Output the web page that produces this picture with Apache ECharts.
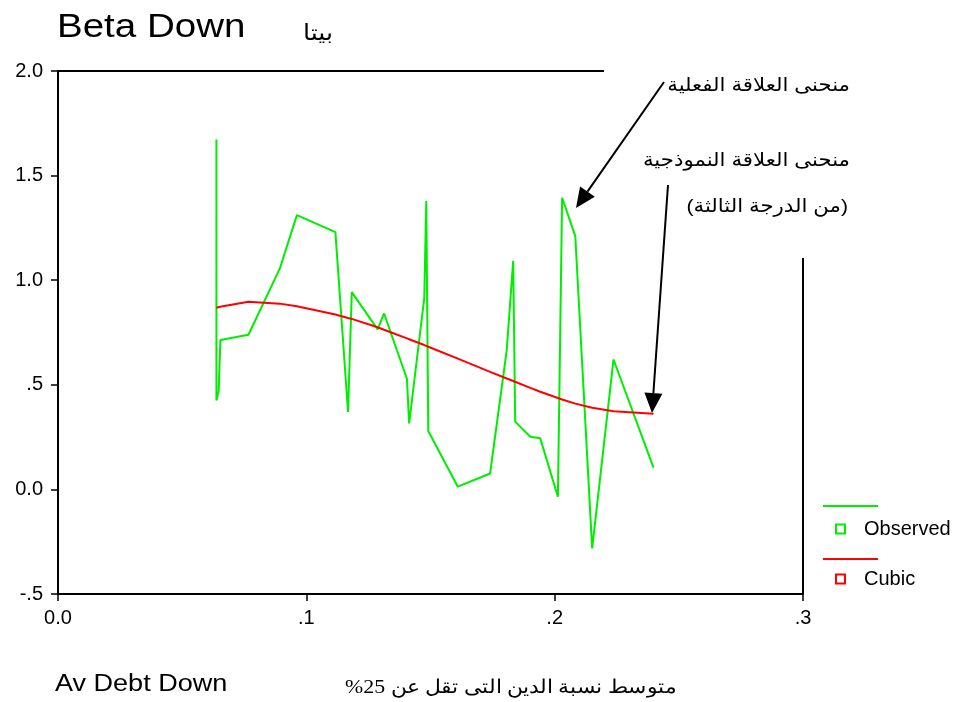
<!DOCTYPE html>
<html>
<head>
<meta charset="utf-8">
<script src="https://cdn.jsdelivr.net/npm/echarts@6/dist/echarts.min.js"></script>
<style>html,body{margin:0;padding:0;background:#fff}#c{width:955px;height:702px}</style>
</head>
<body>
<div id="c"></div>
<script>
// Data
const xValues = [0.0638,0.0638,0.0647,0.0654,0.0767,0.0893,0.0962,0.1117,0.1168,0.1183,0.1287,0.1313,0.1405,0.1414,0.1475,0.1483,0.1491,0.1610,0.1740,0.1807,0.1833,0.1841,0.1902,0.1942,0.2013,0.2030,0.2083,0.2151,0.2237,0.2398];
const observed = [1.673,0.425,0.470,0.714,0.739,1.055,1.311,1.230,0.370,0.943,0.765,0.841,0.529,0.315,0.916,1.378,0.279,0.013,0.076,0.666,1.093,0.324,0.252,0.244,-0.035,1.394,1.211,-0.282,0.621,0.104];
const cubic = [0.868,0.868,0.872,0.875,0.897,0.888,0.875,0.836,0.819,0.815,0.775,0.763,0.722,0.718,0.690,0.686,0.682,0.625,0.562,0.530,0.518,0.514,0.485,0.467,0.437,0.430,0.410,0.390,0.374,0.362];
const yTickLabels = {"-0.5":"-.5","0":"0.0","0.5":".5","1":"1.0","1.5":"1.5","2":"2.0"};
const xTickLabels = {"0":"0.0","0.1":".1","0.2":".2","0.3":".3"};
const seriesNames = ["Observed","Cubic"];
const colors = ["#00ee00","#ff0000"];

const sans = "'Liberation Sans', Arial, 'DejaVu Sans', sans-serif";
const chart = echarts.init(document.getElementById('c'), null, {renderer:'canvas'});

function arrow(x1,y1,x2,y2){
  const dx=x2-x1, dy=y2-y1, L=Math.sqrt(dx*dx+dy*dy), ux=dx/L, uy=dy/L;
  const hl=20, hw=9;
  const bx=x2-ux*hl, by=y2-uy*hl;
  return [
    {type:'line', shape:{x1:x1,y1:y1,x2:bx,y2:by}, style:{stroke:'#000',lineWidth:2}},
    {type:'polygon', shape:{points:[[x2,y2],[bx-uy*hw,by+ux*hw],[bx+uy*hw,by-ux*hw]]}, style:{fill:'#000'}}
  ];
}
function txt(text,x,y,size,align,sx,family){
  return {type:'text',x:x,y:y,scaleX:sx||1,
    style:{text:text,x:0,y:0,align:align,verticalAlign:'middle',font:size+'px '+(family||sans),fill:'#000'}};
}

const option = {
  animation:false,
  backgroundColor:'#fff',
  grid:{left:58,right:152,top:71,bottom:108,containLabel:false},
  xAxis:{type:'value',min:0,max:0.3,interval:0.1,
    axisLine:{show:true,onZero:false,lineStyle:{color:'#000',width:2}},
    axisTick:{show:true,length:7,lineStyle:{color:'#000',width:1.5}},
    axisLabel:{color:'#000',fontFamily:sans,fontSize:20,margin:14,formatter:v=>xTickLabels[String(+v.toFixed(2))]||''},
    splitLine:{show:false}},
  yAxis:{type:'value',min:-0.5,max:2,interval:0.5,
    axisLine:{show:true,onZero:false,lineStyle:{color:'#000',width:2}},
    axisTick:{show:true,length:7,lineStyle:{color:'#000',width:1.5}},
    axisLabel:{color:'#000',fontFamily:sans,fontSize:20,margin:15,formatter:v=>yTickLabels[String(+v.toFixed(2))]||''},
    splitLine:{show:false}},
  legend:{orient:'vertical',left:830,top:514,itemGap:30,itemWidth:9,itemHeight:9,
    textStyle:{fontFamily:sans,fontSize:20,color:'#000',padding:[0,0,0,14]},
    selectedMode:false,
    data:[
      {name:seriesNames[0],icon:'rect',itemStyle:{color:'#fff',borderColor:colors[0],borderWidth:2}},
      {name:seriesNames[1],icon:'rect',itemStyle:{color:'#fff',borderColor:colors[1],borderWidth:2}}
    ]},
  series:[
    {name:seriesNames[0],type:'line',data:xValues.map((x,i)=>[x,observed[i]]),symbol:'none',
      lineStyle:{color:colors[0],width:2},itemStyle:{color:colors[0]}},
    {name:seriesNames[1],type:'line',data:xValues.map((x,i)=>[x,cubic[i]]),symbol:'none',
      lineStyle:{color:colors[1],width:2},itemStyle:{color:colors[1]}}
  ],
  graphic:[
    txt('Beta Down',57,28,33.5,'left',1.15),
    txt('بيتا',303,34,22,'left',1.15),
    {type:'line',shape:{x1:58,y1:71,x2:604,y2:71},style:{stroke:'#000',lineWidth:2}},
    {type:'line',shape:{x1:803,y1:258,x2:803,y2:594},style:{stroke:'#000',lineWidth:2}},
    txt('منحنى العلاقة الفعلية',850,86,19,'right',1.12),
    txt('منحنى العلاقة النموذجية',850,161,19,'right',1.12),
    txt('(من الدرجة الثالثة)',848,207,19,'right',1.12),
    ...arrow(664,82,576,208),
    ...arrow(668,185,652,413),
    {type:'line',shape:{x1:823,y1:506,x2:878,y2:506},style:{stroke:colors[0],lineWidth:2}},
    {type:'line',shape:{x1:823,y1:559,x2:878,y2:559},style:{stroke:colors[1],lineWidth:2}},
    txt('Av Debt Down',55,685,23.5,'left',1.15),
    txt('\u202Bمتوسط نسبة الدين التى تقل عن 25%\u202C',345,688,19,'left',1.15,"'Liberation Serif','DejaVu Serif',serif")
  ]
};
chart.setOption(option);
</script>
</body>
</html>
